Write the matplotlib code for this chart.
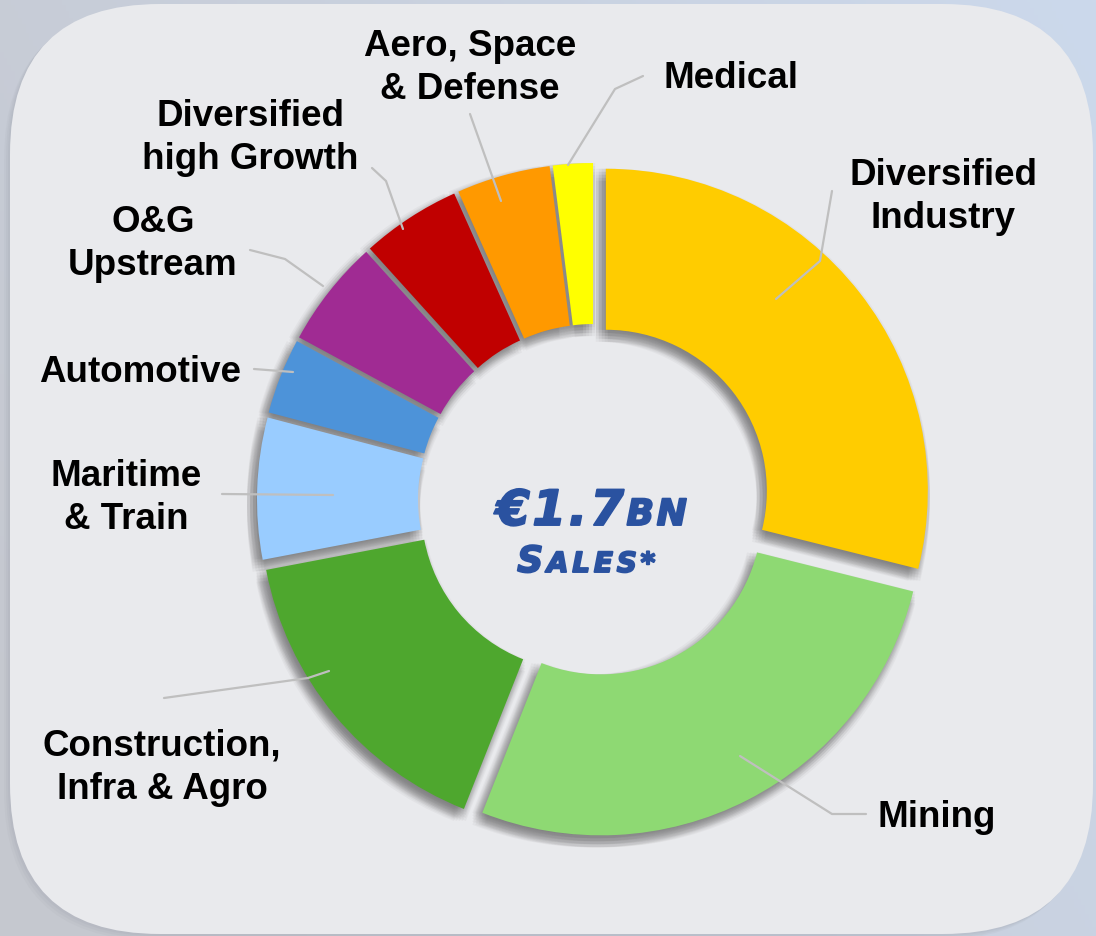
import matplotlib
matplotlib.use('Agg')
import matplotlib.pyplot as plt
import matplotlib.patheffects as pe
import numpy as np
from matplotlib.patches import FancyBboxPatch

# ---------------- data ----------------
categories = ["Diversified\nIndustry", "Mining", "Construction,\nInfra & Agro",
              "Maritime\n& Train", "Automotive", "O&G\nUpstream",
              "Diversified\nhigh Growth", "Aero, Space\n& Defense", "Medical"]
shares = [28.9, 27.1, 16.0, 7.1, 3.8, 5.4, 5.0, 4.7, 2.0]
colors = ['#FFCC00', '#8ED973', '#4EA72E', '#99CCFF', '#4D93D9',
          '#A02B93', '#C00000', '#FF9900', '#FFFF00']
total_value = "€1.7"
total_unit = "BN"
total_caption = ("S", "ALES*")

# ---------------- layout (pixel space) ----------------
W, H = 1096, 937
label_pos = [(943, 197), (937, 818), (162, 768), (126, 498), (140, 373),
             (153, 244), (250, 138), (470, 68), (731, 78)]
leaders = [
    [(776, 300), (820, 262), (832, 192)],
    [(740, 757), (832, 815), (866, 815)],
    [(329, 672), (308, 679), (164, 699)],
    [(333, 496), (222, 495)],
    [(293, 373), (254, 370)],
    [(323, 287), (285, 260), (250, 251)],
    [(403, 230), (386, 182), (372, 169)],
    [(501, 202), (470, 115)],
    [(568, 166), (615, 90), (643, 77)],
]

fig = plt.figure(figsize=(W / 100, H / 100), dpi=100)
ax = fig.add_axes([0, 0, 1, 1])
ax.axis('off')


def Y(y):
    return H - y


# background gradient
gx = np.linspace(0, 1, 300)
gy = np.linspace(0, 1, 300)
GX, GY = np.meshgrid(gx, gy)
c_a = np.array([0.775, 0.785, 0.815])
c_b = np.array([0.80, 0.85, 0.925])
t = np.clip(0.75 * GX + 0.35 * (1 - GY) - 0.1, 0, 1)
img = c_a[None, None, :] * (1 - t[..., None]) + c_b[None, None, :] * t[..., None]
ax.imshow(img, extent=(0, W, 0, H), origin='upper', zorder=0, aspect='auto')

# rounded panel with soft shadow
for off, a in [(6, 0.10), (4, 0.12), (2, 0.15)]:
    ax.add_patch(FancyBboxPatch((10 - off, Y(935) - off), 1083, 930,
                                boxstyle="round,pad=0,rounding_size=150",
                                fc='#9ea3ad', ec='none', alpha=a, zorder=0.8))
ax.add_patch(FancyBboxPatch((10, Y(935)), 1083, 930,
                            boxstyle="round,pad=0,rounding_size=150",
                            fc='#e9eaed', ec='none', zorder=1))

# donut geometry
cx, cy = 594, Y(501)
R, ring, expl = 322, 161, 15

# blurred shadow (layered)
offs = [-6, -3, 0, 3, 6]
for ox in offs:
    for oy in offs:
        sw, _ = ax.pie(shares, startangle=90, counterclock=False, radius=R,
                       center=(cx - 4 + ox, cy - 6 + oy), explode=[expl] * len(shares),
                       colors=['#6a6a6a'] * len(shares), frame=True,
                       wedgeprops=dict(width=ring, linewidth=0, alpha=0.058))
        for w in sw:
            w.set_zorder(2)

wedges, _ = ax.pie(shares, startangle=90, counterclock=False, radius=R,
                   center=(cx, cy), explode=[expl] * len(shares), colors=colors,
                   frame=True, wedgeprops=dict(width=ring, linewidth=0))
for w in wedges:
    w.set_zorder(3)

# leader lines
for pts in leaders:
    xs = [p[0] for p in pts]
    ys = [Y(p[1]) for p in pts]
    ax.plot(xs, ys, color='#bfbfbf', lw=1.6, zorder=4, solid_capstyle='round')

# labels
for name, (lx, ly) in zip(categories, label_pos):
    ax.text(lx, Y(ly), name, ha='center', va='center', fontsize=26.5,
            fontweight='bold', family='Liberation Sans', color='black',
            linespacing=1.3, zorder=5)

# center text composed of pieces (light tracking + stroke for an extended heavy look)
renderer = fig.canvas.get_renderer()
ax.set_xlim(0, W)
ax.set_ylim(0, H)
BLUE = '#2A52A0'


def pieces_centered(pieces, cxp, base, track):
    arts = []
    x = 0.0
    for s, size in pieces:
        for ch in s:
            tt = ax.text(x, base, ch, fontsize=size, fontweight='bold', style='italic',
                         family='DejaVu Sans', color=BLUE, ha='left',
                         va='baseline', zorder=6,
                         path_effects=[pe.withStroke(linewidth=1.4, foreground=BLUE)])
            bb = tt.get_window_extent(renderer)
            arts.append(tt)
            x += bb.width * 0.97 + track
    x -= track
    shift = cxp - x / 2
    for tt in arts:
        px, py = tt.get_position()
        tt.set_position((px + shift, py))


pieces_centered([(total_value, 35), (total_unit, 26)], 591, Y(526), 3.5)
pieces_centered([(total_caption[0], 26), (total_caption[1], 20)], 586, Y(573), 4.5)

ax.set_xlim(0, W)
ax.set_ylim(0, H)
fig.savefig('out.png', dpi=100)
